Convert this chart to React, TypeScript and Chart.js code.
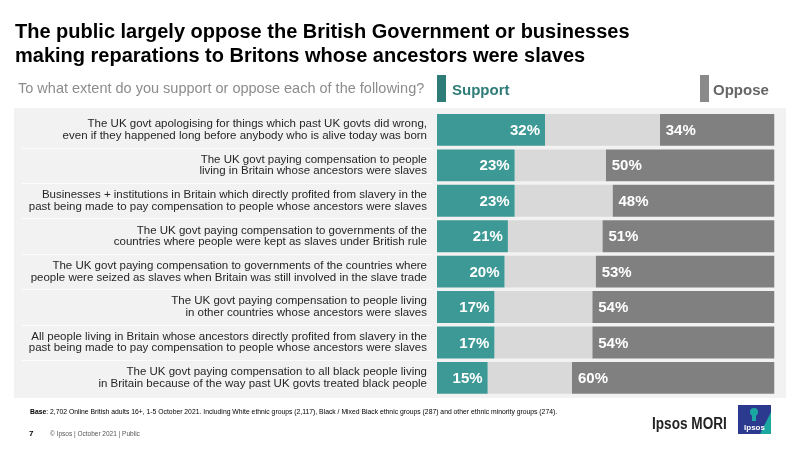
import React, { useEffect, useRef } from "react";
import { Chart, registerables } from "chart.js";
Chart.register(...registerables);

const categories: string[][] = [
  ["The UK govt apologising for things which past UK govts did wrong,", "even if they happened long before anybody who is alive today was born"],
  ["The UK govt paying compensation to people", "living in Britain whose ancestors were slaves"],
  ["Businesses + institutions in Britain which directly profited from slavery in the", "past being made to pay compensation to people whose ancestors were slaves"],
  ["The UK govt paying compensation to governments of the", "countries where people were kept as slaves under British rule"],
  ["The UK govt paying compensation to governments of the countries where", "people were seized as slaves when Britain was still involved in the slave trade"],
  ["The UK govt paying compensation to people living", "in other countries whose ancestors were slaves"],
  ["All people living in Britain whose ancestors directly profited from slavery in the", "past being made to pay compensation to people whose ancestors were slaves"],
  ["The UK govt paying compensation to all black people living", "in Britain because of the way past UK govts treated black people"],
];
const support = [32, 23, 23, 21, 20, 17, 17, 15];
const neither = [34, 27, 29, 28, 27, 29, 29, 25];
const oppose = [34, 50, 48, 51, 53, 54, 54, 60];

const titleLines = [
  "The public largely oppose the British Government or businesses",
  "making reparations to Britons whose ancestors were slaves",
];
const subtitle = "To what extent do you support or oppose each of the following?";
const baseNote =
  "2,702 Online British adults 16+, 1-5 October 2021. Including White ethnic groups (2,117), Black / Mixed Black ethnic groups (287) and other ethnic minority groups (274).";

const FONT = "'Liberation Sans', Arial, sans-serif";
const TEAL = "#3d9995";
const LIGHT = "#d9d9d9";
const DARK = "#808080";

export default function App() {
  const ref = useRef<HTMLCanvasElement | null>(null);
  useEffect(() => {
    if (!ref.current) return;
    const decor = {
      id: "decor",
      beforeDraw(chart: any) {
        const ctx = chart.ctx;
        const y = chart.scales.y;
        ctx.save();
        ctx.fillStyle = "#ffffff";
        ctx.fillRect(0, 0, 800, 450);
        ctx.fillStyle = "#f2f2f2";
        ctx.fillRect(14, 108, 772, 290);
        ctx.strokeStyle = "#fcfcfc";
        ctx.lineWidth = 1;
        for (let i = 0; i < categories.length - 1; i++) {
          const yy = Math.round((y.getPixelForValue(i) + y.getPixelForValue(i + 1)) / 2) + 0.5;
          ctx.beginPath();
          ctx.moveTo(22, yy);
          ctx.lineTo(432, yy);
          ctx.stroke();
        }
        ctx.restore();
      },
      afterDatasetsDraw(chart: any) {
        const ctx = chart.ctx;
        ctx.save();
        ctx.font = `bold 15px ${FONT}`;
        ctx.fillStyle = "#ffffff";
        ctx.textBaseline = "middle";
        const m0 = chart.getDatasetMeta(0);
        m0.data.forEach((bar: any, i: number) => {
          ctx.textAlign = "right";
          ctx.fillText(support[i] + "%", bar.x - 5, bar.y + 1);
        });
        const m2 = chart.getDatasetMeta(2);
        m2.data.forEach((bar: any, i: number) => {
          ctx.textAlign = "left";
          ctx.fillText(oppose[i] + "%", bar.base + 6, bar.y + 1);
        });
        ctx.restore();
      },
      afterDraw(chart: any) {
        const ctx = chart.ctx;
        ctx.save();
        ctx.textBaseline = "alphabetic";
        ctx.textAlign = "left";
        ctx.fillStyle = "#000000";
        ctx.font = `bold 20px ${FONT}`;
        ctx.fillText(titleLines[0], 15, 38);
        ctx.fillText(titleLines[1], 15, 62);
        ctx.fillStyle = "#8c8c8c";
        ctx.font = `14.5px ${FONT}`;
        ctx.fillText(subtitle, 18, 93);
        // legend
        ctx.fillStyle = "#2e7c78";
        ctx.fillRect(437, 75, 9, 27);
        ctx.font = `bold 15px ${FONT}`;
        ctx.fillText("Support", 452, 95);
        ctx.fillStyle = "#8a8a8a";
        ctx.fillRect(700, 75, 9, 27);
        ctx.fillStyle = "#666666";
        ctx.fillText("Oppose", 713, 95);
        // footer
        ctx.fillStyle = "#000000";
        ctx.font = `bold 6.8px ${FONT}`;
        ctx.fillText("Base", 30, 414);
        const bw = ctx.measureText("Base").width;
        ctx.font = `6.8px ${FONT}`;
        ctx.fillText(": " + baseNote, 30 + bw, 414);
        ctx.font = `bold 8px ${FONT}`;
        ctx.fillText("7", 29, 436);
        ctx.fillStyle = "#555555";
        ctx.font = `6.5px ${FONT}`;
        ctx.fillText("\u00A9 Ipsos | October 2021 | Public", 50, 436);
        ctx.fillStyle = "#222222";
        ctx.font = `bold 16px ${FONT}`;
        ctx.save();
        ctx.translate(652, 429);
        ctx.scale(0.85, 1);
        ctx.fillText("Ipsos MORI", 0, 0);
        ctx.restore();
        // logo
        ctx.fillStyle = "#2b3a8f";
        ctx.fillRect(738, 405, 33, 29);
        ctx.fillStyle = "#1aa8a0";
        ctx.beginPath();
        ctx.moveTo(771, 412);
        ctx.lineTo(771, 434);
        ctx.lineTo(760, 434);
        ctx.closePath();
        ctx.fill();
        ctx.beginPath();
        ctx.arc(754, 412, 4, 0, Math.PI * 2);
        ctx.fill();
        ctx.fillRect(752, 414, 4, 7);
        ctx.fillStyle = "#ffffff";
        ctx.font = `bold 8px ${FONT}`;
        ctx.textAlign = "center";
        ctx.fillText("Ipsos", 754.5, 430);
        ctx.restore();
      },
    };

    const chart = new Chart(ref.current, {
      type: "bar",
      data: {
        labels: categories,
        datasets: [
          { label: "Support", data: support, backgroundColor: TEAL },
          { label: "Neither", data: neither, backgroundColor: LIGHT },
          { label: "Oppose", data: oppose, backgroundColor: DARK },
        ],
      },
      options: {
        indexAxis: "y",
        responsive: false,
        animation: false,
        datasets: { bar: { categoryPercentage: 1, barPercentage: 0.9, borderWidth: 0 } },
        layout: { padding: { left: 14, top: 112.2, right: 25.5, bottom: 54.4 } },
        plugins: { legend: { display: false }, tooltip: { enabled: false }, title: { display: false } },
        scales: {
          x: { stacked: true, min: 0, max: 100, display: false },
          y: {
            stacked: true,
            grid: { display: false, drawTicks: false },
            border: { display: false },
            ticks: {
              padding: 10,
              color: "#262626",
              font: { family: FONT, size: 11.5, lineHeight: 1.0 },
            },
            afterFit: (scale: any) => {
              scale.width = 423;
            },
          },
        },
      },
      plugins: [decor],
    } as any);
    return () => chart.destroy();
  }, []);

  return (
    <div style={{ position: "absolute", left: 0, top: 0, width: 800, height: 450 }}>
      <canvas ref={ref} width={800} height={450} />
    </div>
  );
}
